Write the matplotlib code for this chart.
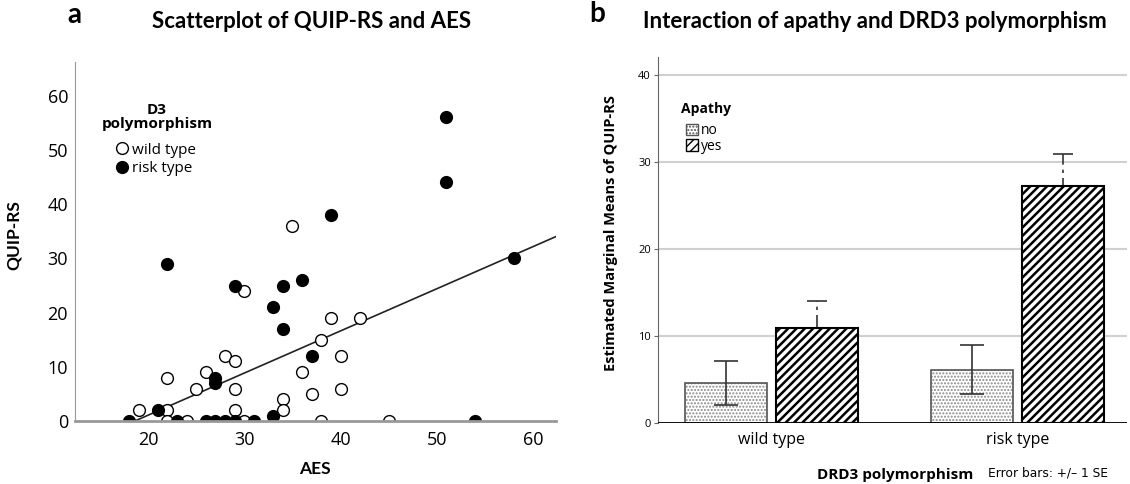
import numpy as np
import matplotlib.pyplot as plt
from matplotlib.lines import Line2D
from matplotlib.patches import Patch

# panel a: scatter of QUIP-RS vs AES, by D3 polymorphism
wild_aes = [35, 30, 39, 42, 38, 28, 29, 40, 22, 26, 36, 25, 29, 40, 37, 34, 34, 19, 22, 29, 22, 24, 30, 38, 45]
wild_quip = [36, 24, 19, 19, 15, 12, 11, 12, 8, 9, 9, 6, 6, 6, 5, 4, 2, 2, 2, 2, 0, 0, 0, 0, 0]
risk_aes = [51, 51, 39, 58, 22, 29, 34, 36, 33, 34, 37, 27, 27, 21, 33, 18, 23, 26, 27, 28, 29, 31, 54]
risk_quip = [56, 44, 38, 30, 29, 25, 25, 26, 21, 17, 12, 8, 7, 2, 1, 0, 0, 0, 0, 0, 0, 0, 0]
fit_coef = [0.777, -14.45]  # slope, intercept of the fit line

# panel b: estimated marginal means
groups = ['wild type', 'risk type']
means_no = [4.62, 6.15]
se_no = [2.55, 2.83]
means_yes = [10.92, 27.23]
se_yes = [3.1, 3.63]

plt.rcParams['font.family'] = ['Open Sans', 'DejaVu Sans']

fig = plt.figure(figsize=(11.3, 4.84), dpi=100)

# ---------- panel a ----------
ax1 = fig.add_axes([0.0664, 0.130, 0.4257, 0.7417])
ax1.scatter(wild_aes, wild_quip, s=72, facecolor='white', edgecolor='black', lw=1.0, zorder=3)
ax1.scatter(risk_aes, risk_quip, s=72, facecolor='black', edgecolor='black', lw=1.0, zorder=3)
xs = np.array([12, 63])
ax1.plot(xs, np.polyval(fit_coef, xs), color='#222222', lw=1.2, zorder=2)

ax1.set_xlim(12.4, 62.4)
ax1.set_ylim(0, 66.2)
ax1.set_xticks([20, 30, 40, 50, 60])
ax1.set_yticks([0, 10, 20, 30, 40, 50, 60])
ax1.tick_params(axis='y', length=0, labelsize=13, pad=5)
ax1.tick_params(axis='x', length=0, labelsize=13, pad=7)
for s in ['top', 'right']:
    ax1.spines[s].set_visible(False)
ax1.spines['left'].set_color('#999999')
ax1.spines['bottom'].set_color('#999999')
ax1.spines['bottom'].set_linewidth(2)
ax1.spines['bottom'].set_zorder(5)

ax1.set_ylabel('QUIP-RS', fontsize=12.5, fontweight='bold', family='Lato')
ax1.yaxis.set_label_coords(-0.111, 0.518)
ax1.set_xlabel('AES', fontsize=12.5, fontweight='bold', family='Lato')
ax1.xaxis.set_label_coords(0.499, -0.11)

handles = [Line2D([], [], ls='none', marker='o', ms=8.5, mfc='white', mec='black', label='wild type'),
           Line2D([], [], ls='none', marker='o', ms=8.5, mfc='black', mec='black', label='risk type')]
ax1.legend(handles=handles, loc='upper left', bbox_to_anchor=(0.070, 0.797), frameon=False, fontsize=11,
           handlelength=0.8, handletextpad=0.25, labelspacing=0.22, borderpad=0)
fig.text(157 / 1130, 1 - 117 / 484, 'D3\npolymorphism', ha='center', va='center', fontsize=11,
         fontweight='bold', linespacing=1.05)

fig.text(312 / 1130, 1 - 21 / 484, 'Scatterplot of QUIP-RS and AES', ha='center', va='center',
         fontsize=16, fontweight='bold', family='Lato')
fig.text(74 / 1130, 1 - 15 / 484, 'a', ha='center', va='center', fontsize=20, fontweight='bold', family='Lato')

# ---------- panel b ----------
ax2 = fig.add_axes([0.5823, 0.1254, 0.415, 0.7574])
x = np.arange(len(groups))
off = 0.1855
w = 0.334

dots = ax2.bar(x - off, means_no, w, color='white', edgecolor='#8a8a8a', hatch='.....', lw=0, zorder=2)
ax2.bar(x - off, means_no, w, fill=False, edgecolor='#555555', lw=1.2, zorder=3)
stripes = ax2.bar(x + off, means_yes, w, color='white', edgecolor='black', hatch='////', lw=1.5, zorder=2)
for b in stripes:
    if hasattr(b, 'set_hatch_linewidth'):
        b.set_hatch_linewidth(1.8)
for b in dots:
    if hasattr(b, 'set_hatch_linewidth'):
        b.set_hatch_linewidth(1.0)

ax2.errorbar(x - off, means_no, yerr=se_no, fmt='none', ecolor='#333333', elinewidth=1.2,
             capsize=8.3, capthick=1.2, zorder=4)
eb = ax2.errorbar(x + off, means_yes, yerr=se_yes, fmt='none', ecolor='#333333', elinewidth=1.2,
                  capsize=7.5, capthick=1.2, zorder=1.5)
eb[2][0].set_linestyle((0, (8, 3, 2, 3)))

ax2.axhline(0, color='black', lw=2, zorder=5)
ax2.set_xlim(-0.464, 1.446)
ax2.set_ylim(0, 42.07)
ax2.set_yticks([0, 10, 20, 30, 40])
ax2.set_xticks(x)
ax2.set_xticklabels(groups)
ax2.yaxis.grid(True, color='#d0d0d0', lw=1.5)
ax2.set_axisbelow(True)
ax2.tick_params(axis='y', labelsize=8, length=3, color='#666666', pad=2)
ax2.tick_params(axis='x', labelsize=11.5, length=0, pad=6)
for s in ['top', 'right', 'bottom']:
    ax2.spines[s].set_visible(False)
ax2.spines['left'].set_color('#666666')

ax2.set_ylabel('Estimated Marginal Means of QUIP-RS', fontsize=10.5, fontweight='bold')
ax2.yaxis.set_label_coords(-0.085, 0.52)
ax2.set_xlabel('DRD3 polymorphism', fontsize=11, fontweight='bold')
ax2.xaxis.set_label_coords(0.506, -0.123)
fig.text(988 / 1130, 1 - 473 / 484, 'Error bars: +/\u2013 1 SE', ha='left', va='center', fontsize=8.8,
         family='DejaVu Sans')

ax2.legend(handles=[Patch(facecolor='white', edgecolor='#555555', hatch='.....', label='no'),
                    Patch(facecolor='white', edgecolor='black', hatch='////', label='yes')],
           loc='upper left', bbox_to_anchor=(0.044, 0.838), frameon=False,
           fontsize=10, handlelength=0.86, handleheight=0.86, handletextpad=0.25,
           labelspacing=0.05, borderpad=0)
fig.text(681 / 1130, 1 - 109 / 484, 'Apathy', ha='left', va='center', fontsize=10, fontweight='bold')

fig.text(875 / 1130, 1 - 21 / 484, 'Interaction of apathy and DRD3 polymorphism', ha='center', va='center',
         fontsize=16, fontweight='bold', family='Lato')
fig.text(597 / 1130, 1 - 14 / 484, 'b', ha='center', va='center', fontsize=20, fontweight='bold', family='Lato')

fig.savefig('out.png', dpi=100)
